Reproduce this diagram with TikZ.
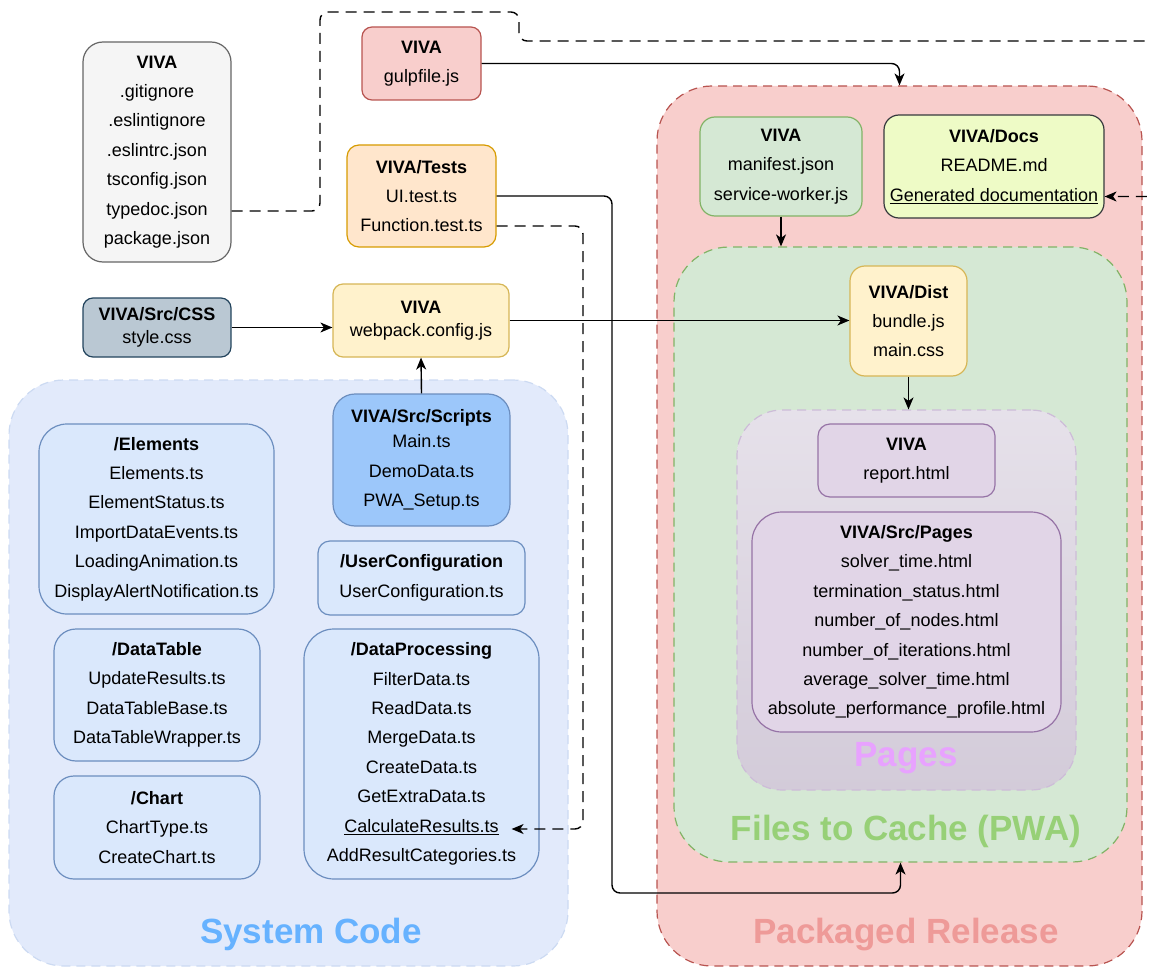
\documentclass[tikz,border=0pt]{standalone}
\usepackage{fontspec}
\setmainfont{Liberation Sans}
\usetikzlibrary{arrows.meta,calc}
\definecolor{grayfill}{HTML}{F5F5F5}
\definecolor{graydraw}{HTML}{666666}
\definecolor{redfill}{HTML}{F8CECC}
\definecolor{reddraw}{HTML}{B85450}
\definecolor{orfill}{HTML}{FFE6CC}
\definecolor{ordraw}{HTML}{D79B00}
\definecolor{cssfill}{HTML}{BAC8D3}
\definecolor{cssdraw}{HTML}{23445D}
\definecolor{yelfill}{HTML}{FFF2CC}
\definecolor{yeldraw}{HTML}{D6B656}
\definecolor{sysfill}{HTML}{E2EAFB}
\definecolor{sysdraw}{HTML}{CCDAF2}
\definecolor{bluefill}{HTML}{DAE8FC}
\definecolor{bluedraw}{HTML}{6C8EBF}
\definecolor{scriptfill}{HTML}{9CC7FA}
\definecolor{greenfill}{HTML}{D5E8D4}
\definecolor{greendraw}{HTML}{82B366}
\definecolor{docfill}{HTML}{EEFBC6}
\definecolor{docdraw}{HTML}{36393D}
\definecolor{pagetop}{HTML}{E6E1EA}
\definecolor{pagebot}{HTML}{D3CBD9}
\definecolor{pagedraw}{HTML}{CDBCD8}
\definecolor{purfill}{HTML}{E1D5E7}
\definecolor{purdraw}{HTML}{9673A6}
\definecolor{systitle}{HTML}{66B2FF}
\definecolor{reltitle}{HTML}{EE9A98}
\definecolor{cachetitle}{HTML}{97D077}
\definecolor{pagetitle}{HTML}{E8A2FF}
\begin{document}
\begin{tikzpicture}[x=1pt,y=-1pt,
  box/.style={draw, align=center, inner sep=0pt, line width=1.2pt,
    font=\fontsize{18}{29.4}\selectfont, text=black},
  tightbox/.style={box, font=\fontsize{18}{22.5}\selectfont},
  container/.style={draw, dashed, dash pattern=on 9pt off 6pt, line width=1.2pt, inner sep=0pt},
  ctitle/.style={anchor=base, font=\bfseries\fontsize{35}{40}\selectfont},
  edge/.style={draw=black, line width=1.4pt, rounded corners=8pt,
    -{Stealth[length=12pt,width=10pt,inset=3.5pt]}},
  dashedge/.style={edge, dash pattern=on 11pt off 7pt}
]
\useasboundingbox (0,0) rectangle (1150,968);

% containers
\node[container, fill=sysfill, draw=sysdraw, rounded corners=55pt, minimum width=559pt, minimum height=586pt] (syscode) at (288.5,673) {};
\node[container, fill=redfill, draw=reddraw, rounded corners=55pt, minimum width=485pt, minimum height=880pt] (packaged) at (899.5,526) {};
\node[container, fill=greenfill, draw=greendraw, rounded corners=55pt, minimum width=453pt, minimum height=615pt] (files) at (900.5,554.5) {};
\node[container, top color=pagetop, bottom color=pagebot, draw=pagedraw, rounded corners=45pt, minimum width=339pt, minimum height=380pt] (pagescont) at (906.5,600) {};

% container titles
\node[ctitle, text=systitle] (systitlenode) at (311,943) {System Code};
\node[ctitle, text=reltitle] (reltitlenode) at (906,943) {Packaged Release};
\node[ctitle, text=cachetitle] (cachetitlenode) at (906,840) {Files to Cache (PWA)};
\node[ctitle, text=pagetitle] (pagetitlenode) at (906,766) {Pages};

% left column top
\node[box, fill=grayfill, draw=graydraw, rounded corners=20pt, minimum width=148pt, minimum height=220pt] (gray) at (157,152)
  {\textbf{VIVA}\\.gitignore\\.eslintignore\\.eslintrc.json\\tsconfig.json\\typedoc.json\\package.json};
\node[box, fill=redfill, draw=reddraw, rounded corners=10pt, minimum width=119pt, minimum height=73pt] (gulp) at (421.5,63.5)
  {\textbf{VIVA}\\gulpfile.js};
\node[box, fill=orfill, draw=ordraw, rounded corners=12pt, minimum width=149pt, minimum height=102pt] (tests) at (421.5,196)
  {\textbf{VIVA/Tests}\\UI.test.ts\\Function.test.ts};
\node[tightbox, fill=cssfill, draw=cssdraw, rounded corners=10pt, minimum width=148pt, minimum height=59pt] (css) at (157,327.5)
  {\textbf{VIVA/Src/CSS}\\style.css};
\node[tightbox, fill=yelfill, draw=yeldraw, rounded corners=10pt, minimum width=176pt, minimum height=73pt] (webpack) at (421,320.5)
  {\textbf{VIVA}\\webpack.config.js};

% system code boxes
\node[box, fill=bluefill, draw=bluedraw, rounded corners=28pt, minimum width=235pt, minimum height=190pt] (elements) at (156.5,519)
  {\textbf{/Elements}\\Elements.ts\\ElementStatus.ts\\ImportDataEvents.ts\\LoadingAnimation.ts\\DisplayAlertNotification.ts};
\node[box, fill=bluefill, draw=bluedraw, rounded corners=22pt, minimum width=206pt, minimum height=132pt] (datatable) at (157,695)
  {\textbf{/DataTable}\\UpdateResults.ts\\DataTableBase.ts\\DataTableWrapper.ts};
\node[box, fill=bluefill, draw=bluedraw, rounded corners=20pt, minimum width=206pt, minimum height=103pt] (chart) at (157,827.5)
  {\textbf{/Chart}\\ChartType.ts\\CreateChart.ts};
\node[box, fill=scriptfill, draw=bluedraw, rounded corners=22pt, minimum width=177pt, minimum height=132pt] (scripts) at (421.5,460)
  {\textbf{VIVA/Src/Scripts}\\[-4pt]Main.ts\\DemoData.ts\\PWA\_Setup.ts};
\node[box, fill=bluefill, draw=bluedraw, rounded corners=12pt, minimum width=207pt, minimum height=74pt] (userconf) at (421.5,578)
  {\textbf{/UserConfiguration}\\UserConfiguration.ts};
\node[box, fill=bluefill, draw=bluedraw, rounded corners=30pt, minimum width=235pt, minimum height=250pt] (dataproc) at (421.5,754)
  {\textbf{/DataProcessing}\\FilterData.ts\\ReadData.ts\\MergeData.ts\\CreateData.ts\\GetExtraData.ts\\\underline{CalculateResults.ts}\\AddResultCategories.ts};

% packaged release boxes
\node[box, fill=greenfill, draw=greendraw, rounded corners=15pt, minimum width=162pt, minimum height=99pt] (manifest) at (781,166.5)
  {\textbf{VIVA}\\manifest.json\\service-worker.js};
\node[box, fill=docfill, draw=docdraw, rounded corners=15pt, minimum width=220pt, minimum height=103pt] (docs) at (994,166.5)
  {\textbf{VIVA/Docs}\\README.md\\\underline{Generated documentation}};
\node[box, fill=yelfill, draw=yeldraw, rounded corners=15pt, minimum width=117pt, minimum height=110pt] (dist) at (908.5,321)
  {\textbf{VIVA/Dist}\\bundle.js\\main.css};
\node[box, fill=purfill, draw=purdraw, rounded corners=12pt, minimum width=177pt, minimum height=73pt] (report) at (906.5,460.5)
  {\textbf{VIVA}\\report.html};
\node[box, fill=purfill, draw=purdraw, rounded corners=30pt, minimum width=309pt, minimum height=220pt] (srcpages) at (906.5,622)
  {\textbf{VIVA/Src/Pages}\\solver\_time.html\\termination\_status.html\\number\_of\_nodes.html\\number\_of\_iterations.html\\average\_solver\_time.html\\absolute\_performance\_profile.html};

% connectors
\coordinate (cfgturn) at (320,12);
\coordinate (cfgturn2) at (519,41);
\coordinate (cfgright) at (1165,41);
\draw[dashedge] ([yshift=-59pt]gray.east) -| (cfgturn) -| (cfgturn2) -- (cfgright) |- ([yshift=-30pt]docs.east);
\draw[edge] (gulp.east) -| (packaged.north);
\coordinate (uiturn) at (612,893);
\draw[edge] (tests.east) -| (uiturn) -| (files.south);
\coordinate (functurn) at (583,829);
\draw[dashedge] ([yshift=-30pt]tests.east) -| (functurn) -- ([xshift=-28pt,yshift=-75pt]dataproc.east);
\draw[edge] (css.east) -- (css.east -| webpack.west);
\draw[edge] (scripts.north) -- (webpack.south);
\draw[edge] (webpack.east) -- (webpack.east -| dist.west);
\draw[edge] (manifest.south) -- (manifest.south |- files.north);
\draw[edge] (dist.south) -- (dist.south |- pagescont.north);
\end{tikzpicture}
\end{document}
